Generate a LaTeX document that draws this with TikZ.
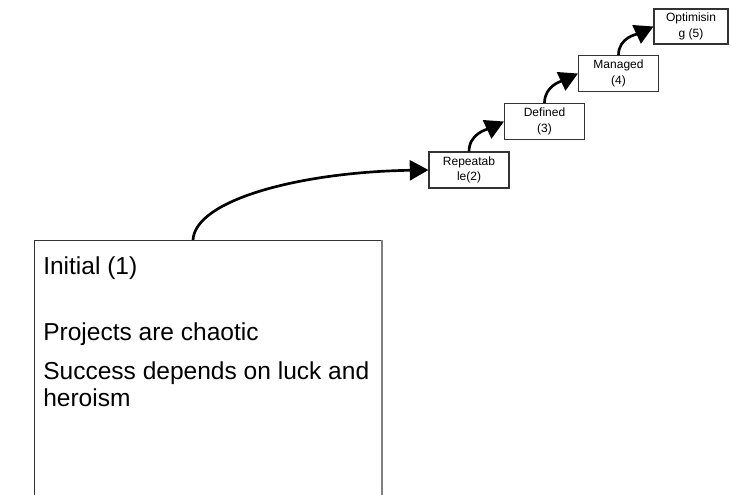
\documentclass[tikz,border=0pt]{standalone}
\usepackage{fontspec}
\setmainfont{Liberation Sans}
\usetikzlibrary{arrows.meta}
\begin{document}
\begin{tikzpicture}[x=0.75pt,y=-0.75pt,
  stage/.style={draw=black!80, line width=0.8pt, fill=white,
    minimum width=60pt, minimum height=27pt, align=center,
    font=\fontsize{9}{11.5}\selectfont, inner sep=0pt},
  flow/.style={line width=2pt, -{Triangle[length=14pt,width=15pt]}},
  bodytext/.style={anchor=base west, font=\fontsize{18.4}{22}\selectfont, inner sep=0pt}
]
\useasboundingbox (0,0) rectangle (731,495);
\clip (0,0) rectangle (731,495);

% level 1: large box running off the bottom edge
\node (initial) [draw=black!80, line width=0.8pt, anchor=north west,
  minimum width=260.25pt, minimum height=225pt, inner sep=0pt] at (34,240) {};
\draw[gray, line width=1.6pt] (initial.north east) -- (initial.south east);
\node (t1) [bodytext] at (43,274) {Initial (1)};
\node (t2) [bodytext] at (43,340) {Projects are chaotic};
\node (t3) [bodytext] at (43,379) {Success depends on luck and};
\node (t4) [bodytext] at (43,406) {heroism};
\coordinate (s1) at (193,240);

% levels 2 to 5
\node (rep) [stage] at (469,170) {Repeatab\\le(2)};
\node (def) [stage] at (544.5,121.5) {Defined\\(3)};
\node (man) [stage] at (618.5,73.5) {Managed\\(4)};
\node (opt) [stage, minimum width=55.5pt, minimum height=26.25pt] at (691,26.5) {Optimisin\\g (5)};

% steps between levels
\draw[flow] (s1) .. controls (195,200) and (300,172) .. (rep.west);
\draw[flow] (rep.north) to[out=90,in=205] (def.west);
\draw[flow] (def.north) to[out=90,in=205] (man.west);
\draw[flow] (man.north) to[out=90,in=205] (opt.west);
\end{tikzpicture}
\end{document}
